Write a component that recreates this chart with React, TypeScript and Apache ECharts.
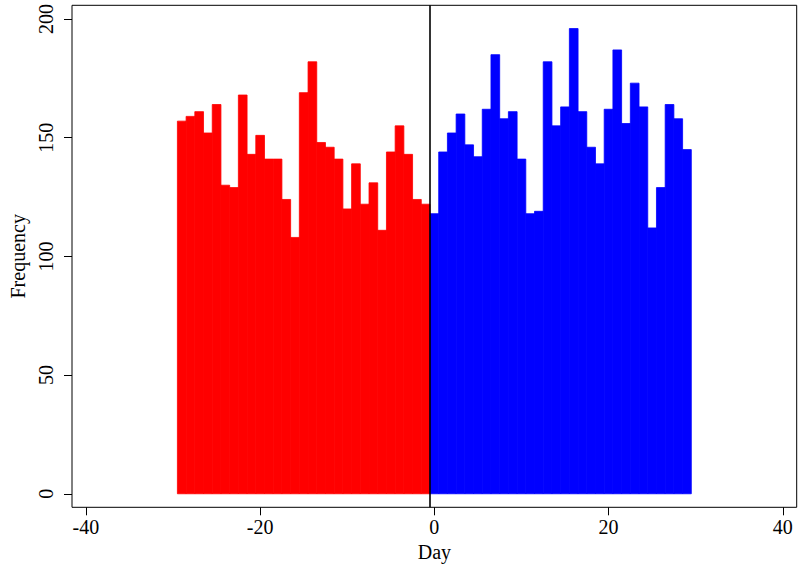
import React, { useEffect, useRef } from "react";
import * as echarts from "echarts";

// Days (bin centres) and frequencies
const redDays: number[] = [-29, -28, -27, -26, -25, -24, -23, -22, -21, -20, -19, -18, -17, -16, -15, -14, -13, -12, -11, -10, -9, -8, -7, -6, -5, -4, -3, -2, -1];
const redFreq: number[] = [157, 159, 161, 152, 164, 130, 129, 168, 143, 151, 141, 141, 124, 108, 169, 182, 148, 146, 141, 120, 139, 122, 131, 111, 144, 155, 143, 124, 122];
const blueDays: number[] = [0, 1, 2, 3, 4, 5, 6, 7, 8, 9, 10, 11, 12, 13, 14, 15, 16, 17, 18, 19, 20, 21, 22, 23, 24, 25, 26, 27, 28, 29];
const blueFreq: number[] = [118, 144, 152, 160, 147, 142, 162, 185, 158, 161, 141, 118, 119, 182, 155, 163, 196, 161, 146, 139, 162, 187, 156, 173, 163, 112, 129, 164, 158, 145];
const xTicks: number[] = [-40, -20, 0, 20, 40];
const yTicks: number[] = [0, 50, 100, 150, 200];
const cutoff = -0.5;
const binWidth = 1;

const FONT = "Liberation Serif";

function histSeries(days: number[], freq: number[], color: string, extra: any = {}) {
  return {
    type: "custom",
    data: days.map((d, i) => [d, freq[i]]),
    renderItem: (params: any, api: any) => {
      const d = api.value(0);
      const v = api.value(1);
      const p0 = api.coord([d - binWidth / 2, v]);
      const p1 = api.coord([d + binWidth / 2, 0]);
      return {
        type: "rect",
        shape: { x: p0[0], y: p0[1], width: p1[0] - p0[0], height: p1[1] - p0[1] },
        style: { fill: color, stroke: color, lineWidth: 0.8 },
      };
    },
    encode: { x: 0, y: 1 },
    ...extra,
  };
}

export default function App() {
  const ref = useRef<HTMLDivElement>(null);
  useEffect(() => {
    if (!ref.current) return;
    const chart = echarts.init(ref.current, undefined, { renderer: "svg" });
    chart.setOption({
      animation: false,
      backgroundColor: "#ffffff",
      textStyle: { fontFamily: FONT, color: "#000" },
      grid: {
        left: 68,
        top: 5.3,
        right: 1.3,
        bottom: 568 - 507.3,
        show: true,
        borderColor: "#000",
        borderWidth: 1,
        backgroundColor: "transparent",
        containLabel: false,
      },
      xAxis: {
        type: "value",
        min: -41.6,
        max: 41.6,
        name: "Day",
        nameLocation: "middle",
        nameGap: 30,
        nameTextStyle: { fontFamily: FONT, fontSize: 20, color: "#000" },
        splitLine: { show: false },
        axisLine: { show: false, onZero: false },
        axisTick: { show: true, length: 8, customValues: xTicks, lineStyle: { color: "#000", width: 1 } },
        axisLabel: { show: true, customValues: xTicks, fontFamily: FONT, fontSize: 20, color: "#000", margin: 10 },
      },
      yAxis: {
        type: "value",
        min: -5.7,
        max: 205.8,
        name: "Frequency",
        nameLocation: "middle",
        nameRotate: 90,
        nameGap: 44,
        nameTextStyle: { fontFamily: FONT, fontSize: 20, color: "#000" },
        splitLine: { show: false },
        axisLine: { show: false, onZero: false },
        axisTick: { show: true, length: 8, customValues: yTicks, lineStyle: { color: "#000", width: 1 } },
        axisLabel: { show: true, customValues: yTicks, rotate: 90, fontFamily: FONT, fontSize: 20, color: "#000", margin: 16 },
      },
      series: [
        histSeries(redDays, redFreq, "#ff0000"),
        histSeries(blueDays, blueFreq, "#0000ff", {
          markLine: {
            silent: true,
            symbol: "none",
            label: { show: false },
            lineStyle: { color: "#000", width: 1.6, type: "solid" },
            data: [{ xAxis: cutoff }],
          },
        }),
      ],
    });
    return () => chart.dispose();
  }, []);
  return (
    <div
      ref={ref}
      style={{ position: "absolute", left: 0, top: 0, width: 798, height: 568 }}
    />
  );
}
